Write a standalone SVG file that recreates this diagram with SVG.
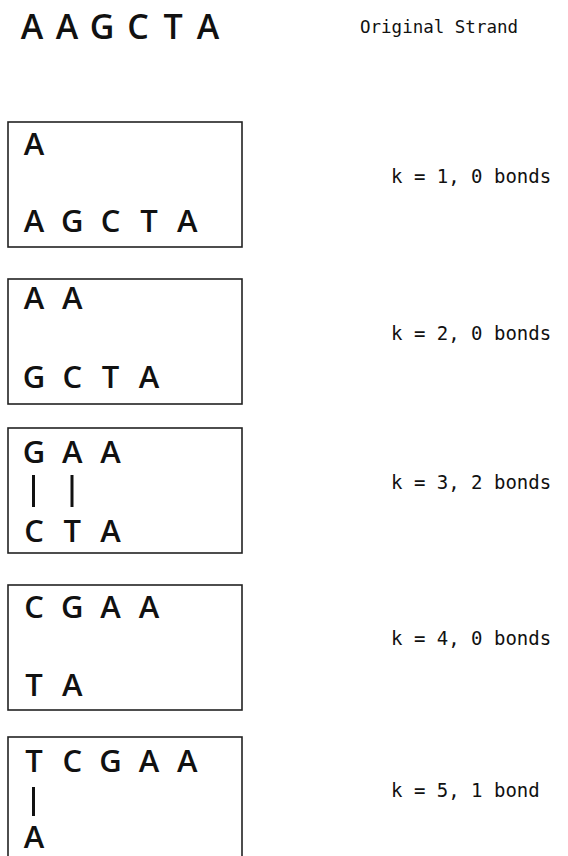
<svg xmlns="http://www.w3.org/2000/svg" width="568" height="856" viewBox="0 0 568 856">
<style>
.bg{fill:#ffffff}
.box{fill:#ffffff;stroke:#222222;stroke-width:1.6}
.base{font-family:"Open Sans","DejaVu Sans",sans-serif;font-weight:600;font-size:31px;fill:#111111;text-anchor:middle}
.top{font-family:"Open Sans","DejaVu Sans",sans-serif;font-weight:600;font-size:34px;fill:#111111;text-anchor:middle}
.lbl{font-family:"DejaVu Sans Mono","Liberation Mono",monospace;font-size:19px;fill:#111111}
.lbl2{font-family:"DejaVu Sans Mono","Liberation Mono",monospace;font-size:17.5px;fill:#111111}
.bond{stroke:#111111;stroke-width:3;stroke-linecap:butt}
</style>
<rect class="bg" x="0" y="0" width="568" height="856"/>
<g id="original">
<text class="top" x="32" y="39">A</text>
<text class="top" x="67" y="39">A</text>
<text class="top" x="102" y="39">G</text>
<text class="top" x="138" y="39">C</text>
<text class="top" x="173" y="39">T</text>
<text class="top" x="208" y="39">A</text>
<text class="lbl2" x="360" y="33">Original Strand</text>
</g>
<g id="k1">
<rect class="box" x="8" y="122" width="234" height="125"/>
<text class="base" x="34" y="155">A</text>
<text class="base" x="34" y="232">A</text>
<text class="base" x="72.3" y="232">G</text>
<text class="base" x="110.6" y="232">C</text>
<text class="base" x="149" y="232">T</text>
<text class="base" x="187.3" y="232">A</text>
<text class="lbl" x="391" y="183">k = 1, 0 bonds</text>
</g>
<g id="k2">
<rect class="box" x="8" y="279" width="234" height="125"/>
<text class="base" x="34" y="309">A</text>
<text class="base" x="72.3" y="309">A</text>
<text class="base" x="34" y="388">G</text>
<text class="base" x="72.3" y="388">C</text>
<text class="base" x="110.6" y="388">T</text>
<text class="base" x="149" y="388">A</text>
<text class="lbl" x="391" y="340">k = 2, 0 bonds</text>
</g>
<g id="k3">
<rect class="box" x="8" y="428" width="234" height="125"/>
<text class="base" x="34" y="463">G</text>
<text class="base" x="72.3" y="463">A</text>
<text class="base" x="110.6" y="463">A</text>
<text class="base" x="34" y="542">C</text>
<text class="base" x="72.3" y="542">T</text>
<text class="base" x="110.6" y="542">A</text>
<text class="lbl" x="391" y="489">k = 3, 2 bonds</text>
</g>
<g id="k4">
<rect class="box" x="8" y="585" width="234" height="125"/>
<text class="base" x="34" y="618">C</text>
<text class="base" x="72.3" y="618">G</text>
<text class="base" x="110.6" y="618">A</text>
<text class="base" x="149" y="618">A</text>
<text class="base" x="34" y="696">T</text>
<text class="base" x="72.3" y="696">A</text>
<text class="lbl" x="391" y="645">k = 4, 0 bonds</text>
</g>
<g id="k5">
<rect class="box" x="8" y="737" width="234" height="130"/>
<text class="base" x="34" y="772">T</text>
<text class="base" x="72.3" y="772">C</text>
<text class="base" x="110.6" y="772">G</text>
<text class="base" x="149" y="772">A</text>
<text class="base" x="187.3" y="772">A</text>
<text class="base" x="34" y="848">A</text>
<text class="lbl" x="391" y="797">k = 5, 1 bond</text>
</g>
<g id="bonds">
<line class="bond" x1="33.5" y1="475" x2="33.5" y2="507"/>
<line class="bond" x1="72" y1="475" x2="72" y2="507"/>
<line class="bond" x1="33.5" y1="787" x2="33.5" y2="816"/>
</g>
</svg>
